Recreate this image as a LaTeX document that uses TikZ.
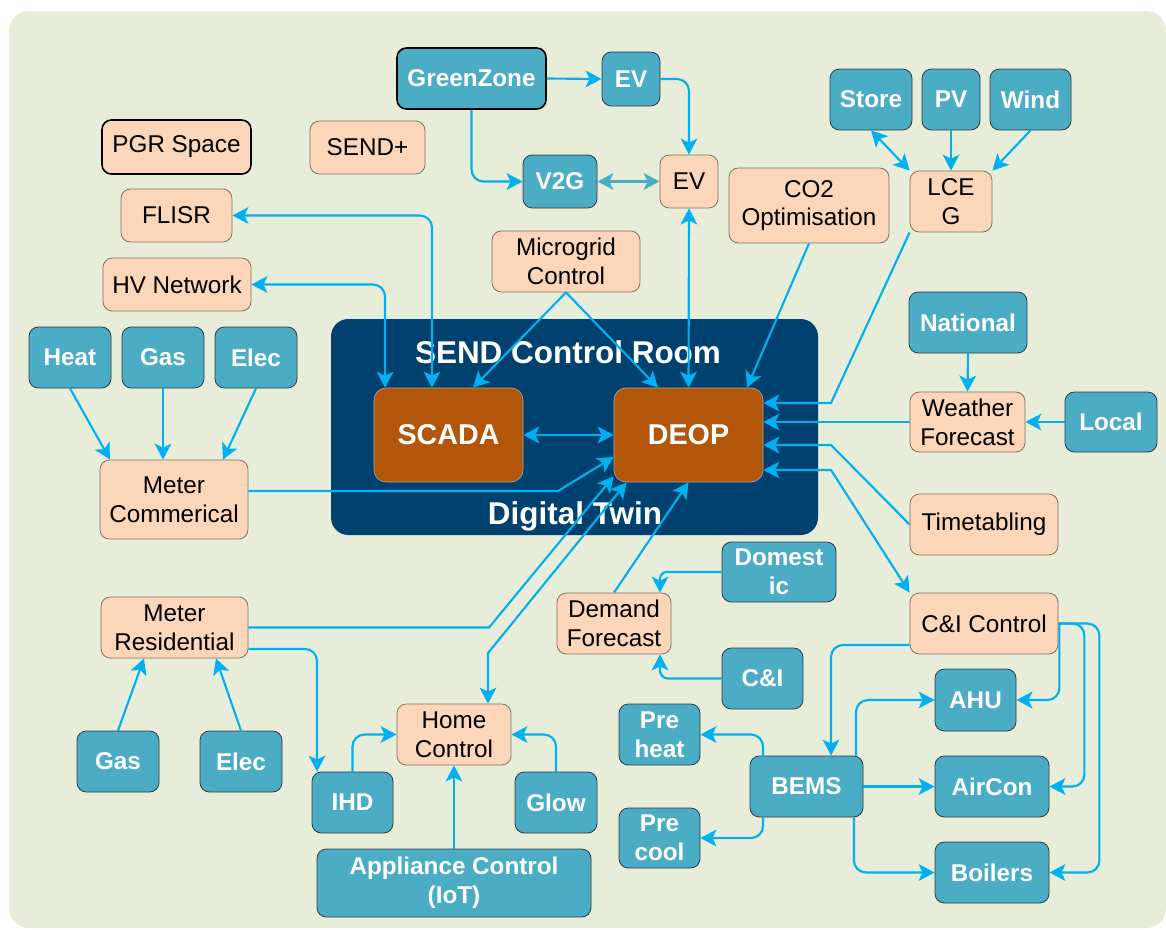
\documentclass[tikz,border=0pt]{standalone}
\usepackage{fontspec}
\setmainfont{Liberation Sans}
\usetikzlibrary{arrows.meta}
\definecolor{bgc}{HTML}{E8EDDA}
\definecolor{tealc}{HTML}{4BACC6}
\definecolor{tealb}{HTML}{2F3B40}
\definecolor{peachc}{HTML}{FBD6B9}
\definecolor{peachb}{HTML}{7F7262}
\definecolor{navyc}{HTML}{00416F}
\definecolor{brownc}{HTML}{B4560A}
\definecolor{linec}{HTML}{00B0F0}
\newcommand{\mybox}[7]{%
  \node[#2, minimum width={(#5-#3)*0.75pt}, minimum height={(#6-#4)*0.75pt}] (#1) at ({(#3+#5)/2},{(#4+#6)/2}) {#7};}
\begin{document}
\begin{tikzpicture}[x=0.75pt,y=-0.75pt,
  tealbox/.style={rounded corners=7pt, fill=tealc, draw=tealb, line width=0.6pt, text=white, font=\bfseries\fontsize{18.2}{21.5}\selectfont, align=center, inner sep=0pt},
  peachbox/.style={rounded corners=7pt, fill=peachc, draw=peachb, line width=0.6pt, text=black, font=\fontsize{18.2}{21.5}\selectfont, align=center, inner sep=0pt},
  thickb/.style={draw=black, line width=1.2pt},
  corebox/.style={rounded corners=9pt, fill=brownc, draw=gray!70, line width=0.5pt, text=white, font=\bfseries\fontsize{21.5}{25}\selectfont, inner sep=0pt},
  roombox/.style={rounded corners=13pt, fill=navyc, inner sep=0pt},
  roomlabel/.style={text=white, font=\bfseries\fontsize{23.6}{27}\selectfont, anchor=base, inner sep=0pt},
  conn/.style={draw=linec, line width=1.6pt, -{Stealth[length=12pt,width=12.5pt,inset=3pt]}},
  bconn/.style={draw=linec, line width=1.6pt, {Stealth[length=12pt,width=12.5pt,inset=3pt]}-{Stealth[length=12pt,width=12.5pt,inset=3pt]}},
  rc/.style={rounded corners=9pt}]
\useasboundingbox (0,0) rectangle (1166,929);
\fill[bgc, rounded corners=15pt] (9,11) rectangle (1166,928);

% control room
\mybox{CR}{roombox}{331}{319}{818}{535}{}
\node[roomlabel] (crl) at (568,363) {SEND Control Room};
\node[roomlabel] (dtl) at (575,524) {Digital Twin};
\mybox{SCADA}{corebox}{374}{388}{523}{482}{SCADA}
\mybox{DEOP}{corebox}{614}{388}{763}{482}{DEOP}

% nodes
\mybox{GZ}{tealbox,thickb}{397}{48}{546}{109}{GreenZone}
\mybox{EVt}{tealbox}{602}{52}{660}{106}{EV}
\mybox{V2G}{tealbox}{523}{155}{597}{208}{V2G}
\mybox{EVo}{peachbox}{660}{155}{718}{208}{EV}
\mybox{CO2}{peachbox}{729}{168}{889}{243}{CO2\\Optimisation}
\mybox{LCEG}{peachbox}{910}{171}{992}{232}{LCE\\G}
\mybox{Store}{tealbox}{830}{69}{912}{130}{Store}
\mybox{PV}{tealbox}{922}{69}{980}{130}{PV}
\mybox{Wind}{tealbox}{990}{69}{1071}{130}{Wind}
\mybox{PGR}{peachbox,thickb}{102}{120}{251}{174}{PGR Space}
\mybox{SENDp}{peachbox}{310}{121}{425}{174}{SEND+}
\mybox{FLISR}{peachbox}{121}{189}{232}{242}{FLISR}
\mybox{HV}{peachbox}{103}{258}{251}{311}{HV Network}
\mybox{MG}{peachbox}{492}{231}{640}{292}{Microgrid\\Control}
\mybox{Heat}{tealbox}{29}{327}{111}{388}{Heat}
\mybox{GasA}{tealbox}{122}{327}{204}{388}{Gas}
\mybox{ElecA}{tealbox}{215}{327}{297}{388}{Elec}
\mybox{MC}{peachbox}{100}{460}{248}{539}{Meter\\Commerical}
\mybox{Nat}{tealbox}{909}{292}{1027}{353}{National}
\mybox{WF}{peachbox}{910}{392}{1025}{452}{Weather\\Forecast}
\mybox{Local}{tealbox}{1065}{392}{1157}{452}{Local}
\mybox{TT}{peachbox}{910}{494}{1058}{555}{Timetabling}
\mybox{Dom}{tealbox}{722}{542}{836}{602}{Domest\\ic}
\mybox{CIC}{peachbox}{910}{593}{1058}{654}{C\&I Control}
\mybox{CI}{tealbox}{722}{648}{803}{709}{C\&I}
\mybox{DF}{peachbox}{557}{593}{671}{654}{Demand\\Forecast}
\mybox{AHU}{tealbox}{935}{669}{1016}{731}{AHU}
\mybox{AC}{tealbox}{935}{756}{1049}{817}{AirCon}
\mybox{Boil}{tealbox}{935}{842}{1049}{903}{Boilers}
\mybox{BEMS}{tealbox}{750}{756}{863}{817}{BEMS}
\mybox{PH}{tealbox}{619}{704}{700}{765}{Pre\\heat}
\mybox{PC}{tealbox}{619}{808}{700}{868}{Pre\\cool}
\mybox{MR}{peachbox}{101}{597}{248}{658}{Meter\\Residential}
\mybox{GasB}{tealbox}{77}{731}{159}{792}{Gas}
\mybox{ElecB}{tealbox}{200}{731}{282}{792}{Elec}
\mybox{HC}{peachbox}{397}{704}{511}{765}{Home\\Control}
\mybox{IHD}{tealbox}{312}{772}{393}{833}{IHD}
\mybox{Glow}{tealbox}{515}{772}{597}{833}{Glow}
\mybox{App}{tealbox}{317}{849}{591}{917}{Appliance Control\\(IoT)}

% connectors
\draw[conn] (GZ.east) -- (EVt.west);
\draw[conn,rc] (EVt.east) -| (EVo.north);
\draw[conn,rc] (GZ.south) |- (V2G.west);
\draw[bconn,draw=tealc] (V2G.east) -- (EVo.west);
\draw[bconn] (EVo.south) -- (DEOP.north);
\draw[bconn,rc] (FLISR.east) -| ([xshift=-12.4pt]SCADA.north);
\draw[bconn,rc] (HV.east) -| ([xshift=-47.6pt]SCADA.north);
\draw[conn] (MG.south) -- ([xshift=18.4pt]SCADA.north);
\draw[conn] (MG.south) -- ([xshift=-22.9pt]DEOP.north);
\draw[conn] (CO2.south) -- ([xshift=43.9pt]DEOP.north);
\draw[conn] (LCEG.south west) -- (831,403) -- ([yshift=24pt]DEOP.east);
\draw[conn] (WF.west) -- ([yshift=9.75pt]DEOP.east);
\draw[conn] (TT.west) -- (831,445) -- ([yshift=-7.5pt]DEOP.east);
\draw[bconn] (CIC.north west) -- (831,470) -- ([yshift=-26.25pt]DEOP.east);
\draw[bconn] (Store.south) -- (LCEG.north west);
\draw[conn] (PV.south) -- (LCEG.north);
\draw[conn] (Wind.south) -- (LCEG.north east);
\draw[conn] (Nat.south) -- (WF.north);
\draw[conn] (Local.west) -- (WF.east);
\draw[conn] (Heat.south) -- ([xshift=-48pt]MC.north);
\draw[conn] (GasA.south) -- (GasA.south |- MC.north);
\draw[conn] (ElecA.south) -- ([xshift=36.75pt]MC.north);
\draw[conn] ([yshift=6.4pt]MC.east) -- (558,491) -- ([yshift=-16.5pt]DEOP.west);
\draw[conn] (MR.east) -- (489,627.5) -- ([yshift=4.5pt]DEOP.south west);
\draw[bconn] ([xshift=25.5pt]HC.north) -- (488,653) -- ([xshift=9.75pt]DEOP.south west);
\draw[conn] (DF.north) -- (DEOP.south);
\draw[conn,rc] ([yshift=-16.1pt]MR.east) -| ([xshift=-26.6pt]IHD.north);
\draw[conn] (GasB.north) -- ([xshift=-22.9pt]MR.south);
\draw[conn] (ElecB.north) -- ([xshift=31.1pt]MR.south);
\draw[conn,rc] (IHD.north) |- (HC.west);
\draw[conn,rc] (Glow.north) |- (HC.east);
\draw[conn] (App.north) -- (HC.south);
\draw[conn,rounded corners=5pt] (Dom.west) -| ([xshift=34.5pt]DF.north);
\draw[conn,rounded corners=6pt] (CI.west) -| ([xshift=34.5pt]DF.south);
\draw[conn,rc] ([yshift=-16.1pt]CIC.west) -| ([xshift=18.4pt]BEMS.north);
\draw[conn,rc] ([xshift=0.75pt]CIC.east) |- (AHU.east);
\draw[conn,rc] (CIC.east) -- ++(26,0) |- (AC.east);
\draw[conn,rc] (CIC.east) -- ++(41,0) |- (Boil.east);
\draw[conn,rc] ([xshift=37.1pt]BEMS.north) |- (AHU.west);
\draw[conn] (BEMS.east) -- (AC.west);
\draw[conn,rc] ([xshift=35.6pt]BEMS.south) |- (Boil.west);
\draw[conn,rc] ([xshift=-32.6pt]BEMS.north) |- (PH.east);
\draw[conn,rc] ([xshift=-32.6pt]BEMS.south) |- (PC.east);
\draw[bconn] (SCADA.east) -- (DEOP.west);
\end{tikzpicture}
\end{document}
